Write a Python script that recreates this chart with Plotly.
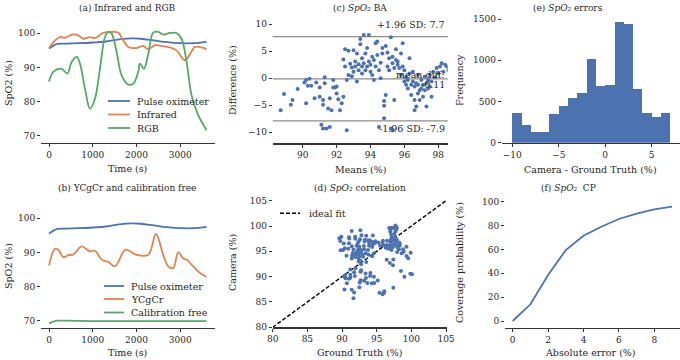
import plotly.graph_objects as go

# ---------------- data ----------------
# (a)/(b) pulse oximeter reference
pulse_t = [0, 100, 200, 400, 700, 1000, 1300, 1600, 1900, 2100, 2400, 2700, 3000, 3300, 3600]
pulse_v = [95.5, 96.4, 96.9, 97.0, 97.1, 97.3, 97.6, 98.2, 98.5, 98.4, 97.9, 97.4, 97.1, 97.1, 97.5]

infrared_t = [0, 137, 251, 365, 555, 669, 783, 936, 1050, 1240, 1431, 1583, 1697, 1811, 2002,
              2153, 2268, 2420, 2610, 2801, 2915, 3105, 3258, 3333, 3523, 3600]
infrared_v = [95.7, 97.9, 98.9, 98.7, 99.7, 99.4, 98.4, 98.9, 98.6, 100.1, 100.4, 100.2, 97.9, 96.0, 95.7,
              96.3, 95.3, 96.5, 96.2, 95.7, 95.0, 92.1, 94.7, 96.0, 95.7, 95.3]

rgb_t = [0, 99, 289, 418, 517, 632, 708, 822, 936, 1050, 1164, 1279, 1354, 1431, 1545, 1659, 1811,
         1925, 2039, 2078, 2169, 2268, 2382, 2496, 2610, 2763, 2915, 3029, 3144, 3258, 3410, 3600]
rgb_v = [85.9, 88.7, 89.6, 88.2, 91.6, 93.1, 91.1, 83.8, 77.9, 80.8, 89.6, 98.9, 100.4, 99.9, 94.5, 87.7, 85.0,
         85.2, 88.7, 91.1, 89.6, 94.0, 100.2, 100.4, 99.6, 100.1, 100.1, 98.4, 91.6, 81.8, 76.0, 71.6]

ycgcr_t = [0, 137, 213, 327, 441, 555, 746, 936, 1050, 1203, 1355, 1507, 1751, 2002, 2268, 2443,
           2610, 2724, 2838, 2953, 3067, 3143, 3295, 3447, 3600]
ycgcr_v = [86.2, 91.1, 90.8, 88.6, 89.2, 89.4, 91.8, 90.3, 90.5, 87.9, 87.2, 85.9, 90.8, 89.3, 89.3, 95.4,
           89.3, 85.9, 85.4, 90.1, 88.2, 87.9, 85.9, 84.0, 82.8]

calib_t = [0, 100, 200, 400, 1000, 2000, 3000, 3600]
calib_v = [69.2, 69.7, 70.0, 70.0, 69.9, 69.9, 69.9, 69.9]

# (c) Bland-Altman: means and differences (camera - ground truth)
ba_means = [88.7, 88.9, 89.3, 89.4, 89.7, 90.1, 90.2, 90.3, 90.2, 90.4,
            90.5, 90.7, 90.8, 91.0, 91.0, 91.1, 91.2, 91.2, 91.3, 91.3,
            91.4, 91.2, 91.5, 91.6, 91.6, 91.8, 91.7, 91.8, 91.9, 92.0,
            92.0, 92.1, 92.2, 92.3, 92.4, 92.4, 92.5, 92.5, 92.6, 92.6,
            92.7, 92.7, 92.8, 92.9, 92.9, 93.0, 93.0, 93.1, 93.1, 93.2,
            93.2, 93.3, 93.3, 93.4, 93.4, 93.5, 93.5, 93.5, 93.6, 93.6,
            93.7, 93.7, 93.8, 93.8, 93.9, 93.9, 94.0, 94.0, 94.1, 94.1,
            94.2, 94.2, 94.3, 94.3, 94.4, 94.4, 94.5, 94.5, 94.6, 94.6,
            94.7, 94.7, 94.8, 94.8, 94.8, 94.9, 94.9, 95.0, 95.0, 95.1,
            95.1, 95.2, 95.2, 95.3, 95.3, 95.3, 95.4, 95.4, 95.5, 95.5,
            95.6, 95.6, 95.7, 95.8, 95.8, 95.9, 95.9, 96.0, 96.0, 96.1,
            96.1, 96.2, 96.2, 96.3, 96.3, 96.4, 96.4, 96.5, 96.5, 96.6,
            96.6, 96.6, 96.7, 96.7, 96.8, 96.8, 96.8, 96.9, 96.9, 97.0,
            97.0, 97.1, 97.1, 97.2, 97.2, 97.3, 97.3, 97.4, 97.4, 97.5,
            97.5, 97.6, 97.6, 97.7, 97.8, 97.9, 98.0, 98.1, 98.2, 98.3,
            98.4, 98.5, 98.6, 98.9, 98.8]
ba_diffs = [-5.9, -2.9, -4.9, -4.0, -2.0, -0.8, -0.3, -1.4, -4.6, -0.1,
            -1.4, -3.7, -0.8, -1.7, -3.4, -8.6, -9.3, -4.0, 0.2, -0.9,
            -9.3, -4.9, -5.6, -3.7, -9.0, -1.7, -5.9, -0.3, -1.7, -1.5,
            -2.8, -3.9, -5.9, -4.6, -3.4, 3.5, 2.2, 5.4, -9.6, -0.3,
            5.1, 0.6, 2.7, 0.4, 2.0, 5.2, 1.2, 3.1, 2.2, -0.6,
            4.6, 1.5, 2.6, 7.3, 6.3, 2.2, 3.7, 0.9, 8.0, 2.8,
            1.5, 4.6, 5.6, 2.2, 3.1, 8.0, 1.2, 2.5, 4.0, 0.6,
            3.4, -0.3, 2.2, 6.5, 4.3, 6.8, -9.0, 1.5, 0.0, 2.9,
            4.6, 5.6, -7.4, -5.1, -4.2, -3.1, 6.0, 2.2, 4.8, 3.7,
            1.5, -9.3, 7.6, 2.8, -9.6, 4.0, -4.0, 1.9, 3.4, 5.4,
            2.5, 3.1, 1.9, 0.6, 4.6, 6.5, 2.2, -0.6, 1.5, -1.2,
            0.2, -1.9, -0.3, 0.9, 3.7, -1.2, -3.1, -0.6, 1.2, -5.9,
            -1.5, -4.0, -5.2, -0.9, -2.8, -1.2, 0.6, -4.0, -2.2, -0.3,
            -1.9, -3.4, -1.2, 0.3, -2.2, -0.9, -5.2, -0.3, -1.9, 0.6,
            -1.5, -3.4, -0.6, 1.2, 0.2, 1.9, 0.9, 2.2, 2.8, 1.2,
            2.5, 2.2, 1.5, 2.4, 1.8]
ba_upper = 7.7
ba_mean_diff = -0.11
ba_lower = -7.9

# (d) ideal-fit line end points
ideal_fit = [80, 105]

# (e) histogram of errors (bin left edges, width 1)
hist_left = [-10, -9, -8, -7, -6, -5, -4, -3, -2, -1, 0, 1, 2, 3, 4, 5, 6]
hist_count = [356, 214, 133, 125, 344, 449, 546, 598, 1011, 691, 700, 1460, 1440, 647, 364, 307, 356]

# (f) coverage probability
cp_err = [0, 1, 2, 3, 4, 5, 6, 7, 8, 9]
cp_prob = [0, 14, 38.5, 59.5, 71.5, 79, 85.5, 90, 93.6, 95.8]

# ---------------- style ----------------
W, H = 680, 360
BLUE, ORANGE, GREEN = "#4C72B0", "#DD8452", "#55A868"
TXT = "#262626"
FONT = "DejaVu Serif"
TICK_SIZE = 9
LABEL_SIZE = 9.5
TITLE_SIZE = 9
LEG_SIZE = 9.5


def fx(px):
    return px / W


def fy(py):
    return 1 - py / H


def lin(p0, v0, p1, v1, p):
    return v0 + (p - p0) * (v1 - v0) / (p1 - p0)


fig = go.Figure()

panels = {
    "": dict(xd=(41, 214.5), xr=((49, 0), (180.3, 3000)), yd=(22, 143), yr=((33.3, 100), (135.7, 70)),
             xt=[0, 1000, 2000, 3000], yt=[70, 80, 90, 100]),
    "2": dict(xd=(41, 214.5), xr=((49, 0), (180.3, 3000)), yd=(205, 327.7), yr=((218.3, 100), (320.7, 70)),
              xt=[0, 1000, 2000, 3000], yt=[70, 80, 90, 100]),
    "3": dict(xd=(272.7, 447.7), xr=((302.7, 90), (438.3, 98)), yd=(17, 143.3), yr=((24.3, 10), (132.3, -10)),
              xt=[90, 92, 94, 96, 98], yt=[-10, -5, 0, 5, 10]),
    "4": dict(xd=(272.7, 447), xr=((272.7, 80), (446, 105)), yd=(198, 327.3), yr=((200.7, 105), (327.3, 80)),
              xt=[80, 85, 90, 95, 100, 105], yt=[80, 85, 90, 95, 100, 105]),
    "5": dict(xd=(501.7, 680), xr=((512.3, -10), (651.7, 5)), yd=(14, 142.7), yr=((19, 1500), (142.7, 0)),
              xt=[-10, -5, 0, 5], yt=[0, 500, 1000, 1500]),
    "6": dict(xd=(505, 680), xr=((512.7, 0), (654.3, 8)), yd=(198, 328), yr=((201.7, 100), (321, 0)),
              xt=[0, 2, 4, 6, 8], yt=[0, 20, 40, 60, 80, 100]),
}

tickfont = dict(family=FONT, size=TICK_SIZE, color=TXT)
for k, p in panels.items():
    (xp0, xv0), (xp1, xv1) = p["xr"]
    (yp0, yv0), (yp1, yv1) = p["yr"]
    xrange = [lin(xp0, xv0, xp1, xv1, p["xd"][0]), lin(xp0, xv0, xp1, xv1, p["xd"][1])]
    yrange = [lin(yp0, yv0, yp1, yv1, p["yd"][1]), lin(yp0, yv0, yp1, yv1, p["yd"][0])]
    fig.update_layout(**{
        "xaxis" + k: dict(domain=[fx(p["xd"][0]), fx(p["xd"][1])], range=xrange, anchor="y" + k,
                          automargin=False, showline=True, linecolor="#333333", linewidth=1.2,
                          ticks="outside", ticklen=3, tickwidth=1, tickcolor="#333333",
                          showgrid=False, zeroline=False, tickvals=p["xt"], tickfont=tickfont),
        "yaxis" + k: dict(domain=[fy(p["yd"][1]), fy(p["yd"][0])], range=yrange, anchor="x" + k,
                          automargin=False, showline=False, ticks="outside", ticklen=3, tickwidth=1,
                          tickcolor="#333333", showgrid=False, zeroline=False, tickvals=p["yt"],
                          tickfont=tickfont),
    })

line_kw = dict(shape="spline", smoothing=1.0, width=1.8)
# (a)
fig.add_trace(go.Scatter(x=pulse_t, y=pulse_v, mode="lines", line=dict(color=BLUE, **line_kw), xaxis="x", yaxis="y"))
fig.add_trace(go.Scatter(x=infrared_t, y=infrared_v, mode="lines", line=dict(color=ORANGE, **line_kw), xaxis="x", yaxis="y"))
fig.add_trace(go.Scatter(x=rgb_t, y=rgb_v, mode="lines", line=dict(color=GREEN, **line_kw), xaxis="x", yaxis="y"))
# (b)
fig.add_trace(go.Scatter(x=pulse_t, y=pulse_v, mode="lines", line=dict(color=BLUE, **line_kw), xaxis="x2", yaxis="y2"))
fig.add_trace(go.Scatter(x=ycgcr_t, y=ycgcr_v, mode="lines", line=dict(color=ORANGE, **line_kw), xaxis="x2", yaxis="y2"))
fig.add_trace(go.Scatter(x=calib_t, y=calib_v, mode="lines", line=dict(color=GREEN, **line_kw), xaxis="x2", yaxis="y2"))

# (c) Bland-Altman
for val in (ba_upper, ba_mean_diff, ba_lower):
    fig.add_shape(type="line", xref="x3 domain", yref="y3", x0=0, x1=1, y0=val, y1=val,
                  line=dict(color="#8c8c8c", width=1.2), layer="below")
fig.add_trace(go.Scatter(x=ba_means, y=ba_diffs, mode="markers",
                         marker=dict(color=BLUE, size=4, line=dict(width=0)), xaxis="x3", yaxis="y3"))

# (d) correlation (ground truth vs camera from the same pairs)
gt = [m - d / 2 for m, d in zip(ba_means, ba_diffs)]
cam = [m + d / 2 for m, d in zip(ba_means, ba_diffs)]
fig.add_trace(go.Scatter(x=ideal_fit, y=ideal_fit, mode="lines",
                         line=dict(color="black", width=1.4, dash="4px,2px"), xaxis="x4", yaxis="y4"))
fig.add_trace(go.Scatter(x=gt, y=cam, mode="markers",
                         marker=dict(color=BLUE, size=4, line=dict(width=0)), xaxis="x4", yaxis="y4"))

# (e) histogram
fig.add_trace(go.Bar(x=[l + 0.5 for l in hist_left], y=hist_count, width=1,
                     marker=dict(color=BLUE, line=dict(width=0)), xaxis="x5", yaxis="y5"))

# (f) coverage probability
fig.add_trace(go.Scatter(x=cp_err, y=cp_prob, mode="lines", line=dict(color=BLUE, width=1.8),
                         xaxis="x6", yaxis="y6"))

# ---------------- text ----------------
ann = []


def text(px, py, s, size=9, angle=0, xanchor="center"):
    ann.append(dict(x=fx(px), y=fy(py), xref="paper", yref="paper", text=s, showarrow=False,
                    font=dict(family=FONT, size=size, color=TXT), textangle=angle,
                    xanchor=xanchor, yanchor="middle"))


spo2 = "<i>SpO\u2082</i>"
# titles
text(127, 8, "(a) Infrared and RGB", TITLE_SIZE)
text(127, 188, "(b) YCgCr and calibration free", TITLE_SIZE)
text(360, 8, "(c) " + spo2 + " BA", TITLE_SIZE)
text(360, 188, "(d) " + spo2 + " correlation", TITLE_SIZE)
text(568, 8, "(e) " + spo2 + " errors", TITLE_SIZE)
text(568, 188, "(f) " + spo2 + "  CP", TITLE_SIZE)
# axis labels
text(8, 83, "SpO2 (%)", LABEL_SIZE, angle=-90)
text(127, 168, "Time (s)", LABEL_SIZE)
text(8, 266, "SpO2 (%)", LABEL_SIZE, angle=-90)
text(127, 352, "Time (s)", LABEL_SIZE)
text(232, 80, "Difference (%)", LABEL_SIZE, angle=-90)
text(360, 169, "Means (%)", LABEL_SIZE)
text(232, 263, "Camera (%)", LABEL_SIZE, angle=-90)
text(360, 352, "Ground Truth (%)", LABEL_SIZE)
text(459, 80, "Frequency", LABEL_SIZE, angle=-90)
text(590, 169, "Camera - Ground Truth (%)", LABEL_SIZE)
text(459, 263, "Coverage probability (%)", LABEL_SIZE, angle=-90)
text(590, 352, "Absolute error (%)", LABEL_SIZE)
# BA annotations
text(447, 24.3, "+1.96 SD: 7.7", LEG_SIZE, xanchor="right")
text(447, 74.5, "mean diff:", LEG_SIZE, xanchor="right")
text(447, 84.3, "-0.11", LEG_SIZE, xanchor="right")
text(447, 128.3, "-1.96 SD: -7.9", LEG_SIZE, xanchor="right")

# manual legends
legends = [
    (108, 130, 135, [(101, BLUE, "Pulse oximeter"), (114.5, ORANGE, "Infrared"), (128, GREEN, "RGB")]),
    (104, 124, 129, [(286, BLUE, "Pulse oximeter"), (299, ORANGE, "YCgCr"), (312.5, GREEN, "Calibration free")]),
]
for x0, x1, xt, items in legends:
    for py, col, lab in items:
        fig.add_shape(type="line", xref="paper", yref="paper", x0=fx(x0), x1=fx(x1), y0=fy(py), y1=fy(py),
                      line=dict(color=col, width=1.8))
        text(xt, py, lab, LEG_SIZE, xanchor="left")
fig.add_shape(type="line", xref="paper", yref="paper", x0=fx(280), x1=fx(300), y0=fy(213.3), y1=fy(213.3),
              line=dict(color="black", width=1.4, dash="4px,2px"))
text(307, 213.3, "ideal fit", LEG_SIZE, xanchor="left")

fig.update_layout(annotations=ann, width=W, height=H, margin=dict(l=0, r=0, t=0, b=0),
                  paper_bgcolor="white", plot_bgcolor="white", showlegend=False,
                  font=dict(family=FONT, size=9, color=TXT), bargap=0)

# remove the browser's default 8px page margin so the figure fills the window exactly
fig.write_html("out.html", config={"displayModeBar": False, "staticPlot": True},
               post_script="document.body.style.margin='0';document.body.style.overflow='hidden';")
